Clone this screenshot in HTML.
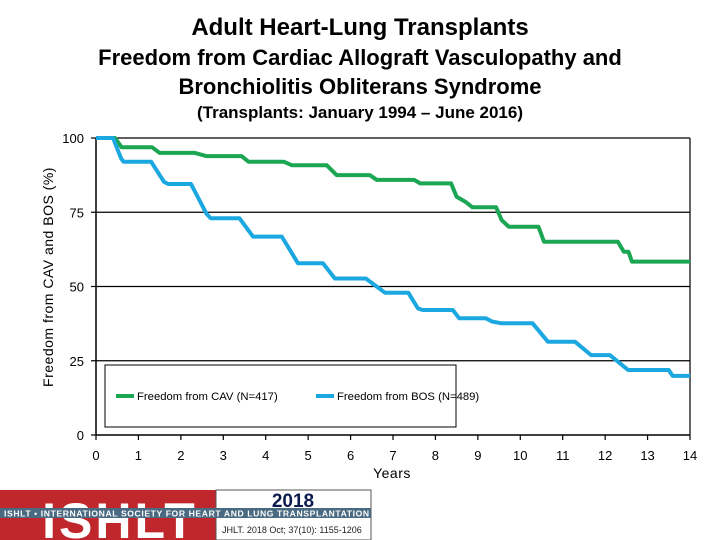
<!DOCTYPE html>
<html><head><meta charset="utf-8"><style>
body{margin:0;background:#fff;font-family:"Liberation Sans",Arial,sans-serif;}
svg{display:block}
</style></head><body>
<svg width="720" height="540" xmlns="http://www.w3.org/2000/svg" font-family="Liberation Sans, Arial, sans-serif">
<text x="360" y="35" text-anchor="middle" font-size="24" font-weight="bold">Adult Heart-Lung Transplants</text>
<text x="360" y="65" text-anchor="middle" font-size="22" font-weight="bold">Freedom from Cardiac Allograft Vasculopathy and</text>
<text x="360" y="94" text-anchor="middle" font-size="22" font-weight="bold">Bronchiolitis Obliterans Syndrome</text>
<text x="360" y="118" text-anchor="middle" font-size="17" font-weight="bold">(Transplants: January 1994 – June 2016)</text>
<text transform="translate(53,277) rotate(-90)" text-anchor="middle" font-size="14" letter-spacing="0.5">Freedom from CAV and BOS (%)</text>
<text x="392" y="478" text-anchor="middle" font-size="14" letter-spacing="0.5">Years</text>
<g id="grid"></g><g id="axes"></g><g id="series"></g>
<g>
<rect x="105" y="365" width="351" height="62" fill="none" stroke="#000" stroke-width="1"/>
<line x1="116" y1="396" x2="134" y2="396" stroke="#1aa652" stroke-width="4"/>
<text x="137" y="400" font-size="11.3">Freedom from CAV (N=417)</text>
<line x1="316" y1="396" x2="334" y2="396" stroke="#1ba7e0" stroke-width="4"/>
<text x="337" y="400" font-size="11.3">Freedom from BOS (N=489)</text>
</g>
<g>
<rect x="0" y="490" width="216" height="50" fill="#c0272d"/>
<text x="120" y="538" text-anchor="middle" font-size="50" font-weight="bold" fill="#fff" letter-spacing="3">ISHLT</text>
<rect x="216" y="490" width="155" height="50" fill="#fff" stroke="#555" stroke-width="1"/>
<rect x="0" y="508" width="371" height="10" fill="#4a6a82"/>
<text x="4" y="516.5" font-size="8.6" font-weight="bold" fill="#fff" letter-spacing="0.6">ISHLT • INTERNATIONAL SOCIETY FOR HEART AND LUNG TRANSPLANTATION</text>
<text x="293" y="507" text-anchor="middle" font-size="19" font-weight="bold" fill="#0c1a4e">2018</text>
<text x="222" y="533" font-size="9" fill="#222">JHLT. 2018 Oct; 37(10): 1155-1206</text>
</g>
</svg>
<script>
const yTicks=[0,25,50,75,100];
const xTicks=[0,1,2,3,4,5,6,7,8,9,10,11,12,13,14];
const cavT=[0,0.45,0.6,1.32,1.5,2.33,2.6,3.43,3.6,4.43,4.62,5.44,5.67,6.45,6.62,7.5,7.64,8.37,8.5,8.7,8.87,9.43,9.56,9.73,10.43,10.56,12.3,12.44,12.55,12.63,14];
const cavS=[100,100,96.9,96.9,95.0,95.0,93.9,93.9,92.0,92.0,90.8,90.8,87.5,87.5,85.9,85.9,84.7,84.7,80.2,78.6,76.7,76.7,72.4,70.1,70.1,65.1,65.1,61.7,61.7,58.4,58.4];
const bosT=[0,0.4,0.59,0.65,1.3,1.6,1.7,2.24,2.6,2.7,3.38,3.7,4.38,4.76,5.35,5.63,6.36,6.81,7.36,7.59,7.7,8.41,8.56,9.19,9.33,9.56,10.29,10.65,11.29,11.67,12.11,12.25,12.54,13.5,13.59,14];
const bosS=[100,100,93.2,92.0,92.0,85.3,84.5,84.5,74.6,73.0,73.0,66.8,66.8,57.8,57.8,52.7,52.7,47.9,47.9,42.6,42.1,42.1,39.3,39.3,38.2,37.6,37.6,31.4,31.4,26.9,26.9,25.3,21.9,21.9,19.9,19.9];
const NS='http://www.w3.org/2000/svg';
const X0=96,X1=690,Y0=435,Y1=138;
function xs(t){return X0+(X1-X0)*t/14;}
function ys(v){return Y0-(Y0-Y1)*v/100;}
function mk(tag,attrs,parent){const e=document.createElementNS(NS,tag);for(const k in attrs)e.setAttribute(k,attrs[k]);parent.appendChild(e);return e;}
const grid=document.getElementById('grid'),axes=document.getElementById('axes'),ser=document.getElementById('series');
yTicks.forEach(v=>{
  if(v>0){const l=mk('line',{x1:X0,x2:X1,y1:ys(v),y2:ys(v),stroke:'#000','stroke-width':1.2},grid);
  
  }
  mk('line',{x1:X0-5,x2:X0,y1:ys(v),y2:ys(v),stroke:'#000','stroke-width':1.2},axes);
  const t=mk('text',{x:X0-12,y:ys(v)+5,'text-anchor':'end','font-size':13},axes);t.textContent=v;
  
  
});
mk('line',{x1:X1,x2:X1,y1:Y1,y2:Y0,stroke:'#000','stroke-width':1.2},grid);
const ya=mk('line',{x1:X0,x2:X0,y1:Y1,y2:Y0,stroke:'#000','stroke-width':1.5},axes);


const xa=mk('line',{x1:X0,x2:X1,y1:Y0,y2:Y0,stroke:'#000','stroke-width':1.5},axes);


xTicks.forEach(v=>{
  mk('line',{x1:xs(v),x2:xs(v),y1:Y0,y2:Y0+5,stroke:'#000','stroke-width':1.2},axes);
  const t=mk('text',{x:xs(v),y:Y0+25,'text-anchor':'middle','font-size':13},axes);t.textContent=v;
  
  
});
function line(T,S,color,name){
  const p=T.map((t,i)=>xs(t).toFixed(1)+','+ys(S[i]).toFixed(1)).join(' ');
  const e=mk('polyline',{points:p,fill:'none',stroke:color,'stroke-width':4,'stroke-linejoin':'round'},ser);
  
  
}
line(cavT,cavS,'#1aa652','cav-line');
line(bosT,bosS,'#1ba7e0','bos-line');
</script>
</body></html>
